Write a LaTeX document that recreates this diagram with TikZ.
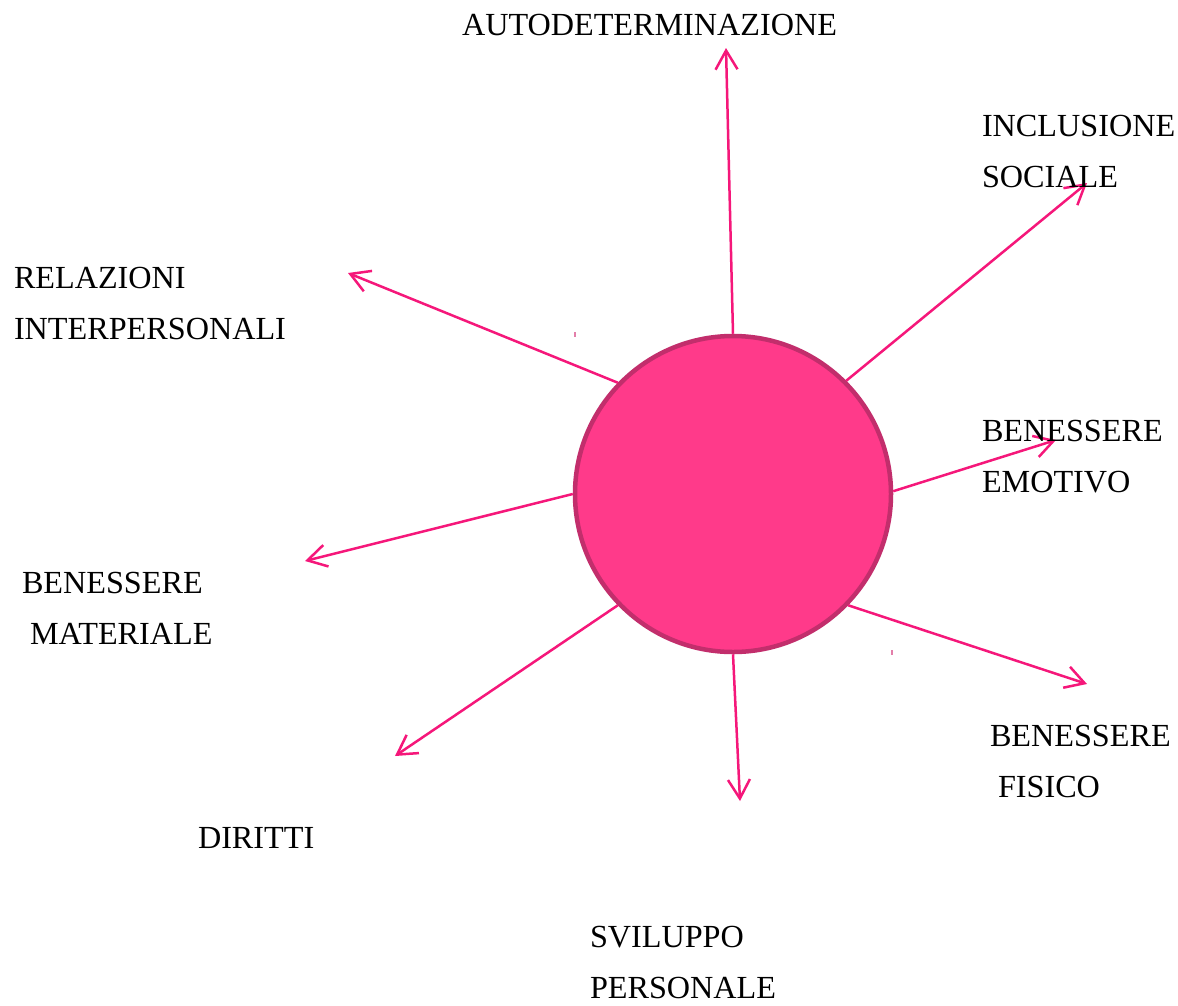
\documentclass[tikz,border=0pt]{standalone}
\usepackage{fontspec}
\setmainfont{Liberation Serif}
\usetikzlibrary{arrows.meta}
\definecolor{linepink}{HTML}{F5177A}
\definecolor{ballfill}{HTML}{FF3A8A}
\definecolor{balledge}{HTML}{C22E6C}
\definecolor{tickpink}{HTML}{E37FAA}
\tikzset{
  spoke/.style={draw=linepink, line width=2.5pt, -{Straight Barb[length=19pt,width=22pt]}},
  lbl/.style={inner sep=0pt, outer sep=0pt, anchor=base west, align=left,
    font=\fontsize{32.2}{50.5}\selectfont},
}
\begin{document}
\begin{tikzpicture}[x=1pt,y=-1pt]
\useasboundingbox (0,0) rectangle (1178,1005);
\node[circle, draw=balledge, fill=ballfill, line width=4.5pt, minimum size=316pt, inner sep=0pt] (c) at (733,494) {};
\coordinate (eN) at (726,48);
\coordinate (eNE) at (1087,183);
\coordinate (eE) at (1056,440);
\coordinate (eSE) at (1087,684);
\coordinate (eS) at (740,801);
\coordinate (eSW) at (395,756);
\coordinate (eW) at (305,561);
\coordinate (eNW) at (348,273);
\draw[spoke] (c.90) -- (eN);
\draw[spoke] (c.45) -- (eNE);
\draw[spoke] (c.1) -- (eE);
\draw[spoke] (c.-44) -- (eSE);
\draw[spoke] (c.-90) -- (eS);
\draw[spoke] (c.-136) -- (eSW);
\draw[spoke] (c.180) -- (eW);
\draw[spoke] (c.136) -- (eNW);
\draw[tickpink, line width=1.5pt] (575,332) -- (575,337);
\draw[tickpink, line width=1.5pt] (892,650) -- (892,655);
\node[lbl] (t1) at (462,35) {AUTODETERMINAZIONE};
\node[lbl] (t2) at (982,187) {INCLUSIONE\\SOCIALE};
\node[lbl] (t3) at (14,339) {RELAZIONI\\INTERPERSONALI};
\node[lbl] (t4) at (982,492) {BENESSERE\\EMOTIVO};
\node[lbl] (t5) at (22,644) {BENESSERE\\\hspace*{8pt}MATERIALE};
\node[lbl] (t6) at (990,797) {BENESSERE\\\hspace*{8pt}FISICO};
\node[lbl] (t7) at (198,848) {DIRITTI};
\node[lbl] (t8) at (590,998) {SVILUPPO\\PERSONALE};
\end{tikzpicture}
\end{document}
